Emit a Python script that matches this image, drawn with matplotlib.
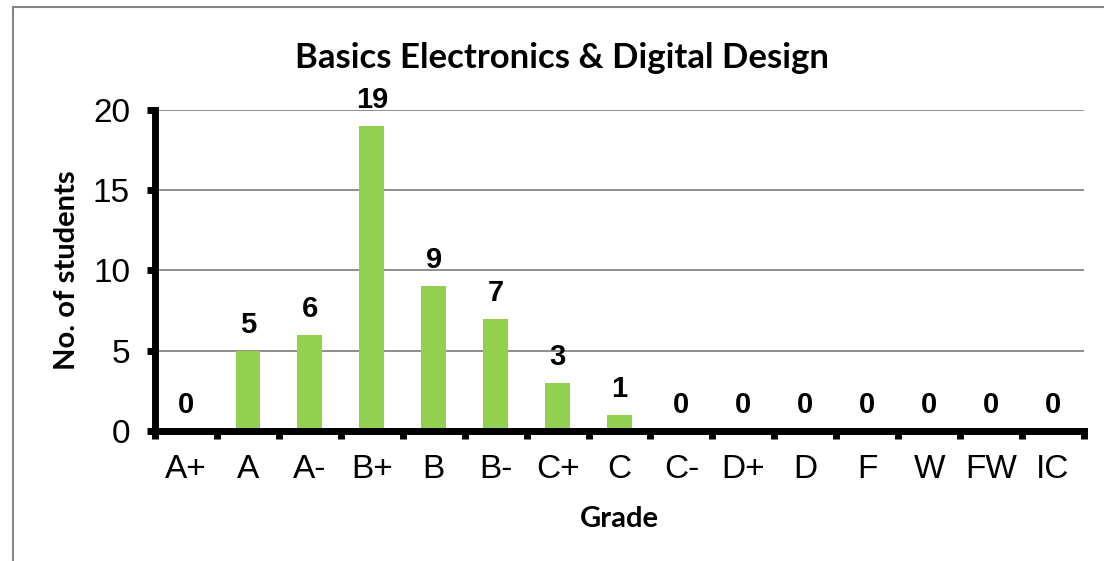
import matplotlib.pyplot as plt
from matplotlib.lines import Line2D
import numpy as np

# Grade distribution data
grades = ['A+', 'A', 'A-', 'B+', 'B', 'B-', 'C+', 'C', 'C-', 'D+', 'D', 'F', 'W', 'FW', 'IC']
students = [0, 5, 6, 19, 9, 7, 3, 1, 0, 0, 0, 0, 0, 0, 0]

fig = plt.figure(figsize=(11.04, 5.61), dpi=100)
ax = fig.add_axes([0.1404, 0.232, 0.8415, 0.572])

x = np.arange(len(grades))
ax.bar(x, students, width=0.4, color='#92D050', zorder=3)

# value labels above bars
for xi, v in zip(x, students):
    ax.text(xi, v + 0.75, str(v), ha='center', va='bottom', fontsize=21,
            fontweight='bold', family='Liberation Sans', zorder=4)

ax.set_xlim(-0.5, len(grades) - 0.5)
ax.set_ylim(0, 20)
ax.set_yticks([0, 5, 10, 15, 20])
ax.set_xticks(x)
ax.set_xticklabels(grades)
ax.set_xticks(np.arange(-0.5, len(grades)), minor=True)
ax.tick_params(axis='x', which='major', length=0, pad=17, labelsize=24)
ax.tick_params(axis='x', which='minor', length=6, width=5, direction='out')
ax.tick_params(axis='y', length=6, width=5, direction='out', pad=12, labelsize=24)
for lab in ax.get_xticklabels() + ax.get_yticklabels():
    lab.set_family('Liberation Sans')

ax.grid(axis='y', color='#868686', linewidth=1.3, zorder=0)
for s in ['top', 'right']:
    ax.spines[s].set_visible(False)
for s in ['left', 'bottom']:
    ax.spines[s].set_linewidth(5)
    ax.spines[s].set_zorder(5)

ax.set_xlabel('Grade', fontsize=21, fontweight='bold', family='Lato', labelpad=15)
ax.set_ylabel('No. of students', fontsize=21, fontweight='bold', family='Lato', labelpad=9)
fig.text(0.509, 0.897, 'Basics Electronics & Digital Design', ha='center', va='center',
         fontsize=25, fontweight='bold', family='Lato')

# chart area border (left and top visible)
fig.add_artist(Line2D([0.0118, 0.0118], [0, 0.9875], transform=fig.transFigure,
                      color='#868686', linewidth=1.5))
fig.add_artist(Line2D([0.0118, 1.0], [0.9875, 0.9875], transform=fig.transFigure,
                      color='#868686', linewidth=1.5))

fig.savefig('out.png', dpi=100)
